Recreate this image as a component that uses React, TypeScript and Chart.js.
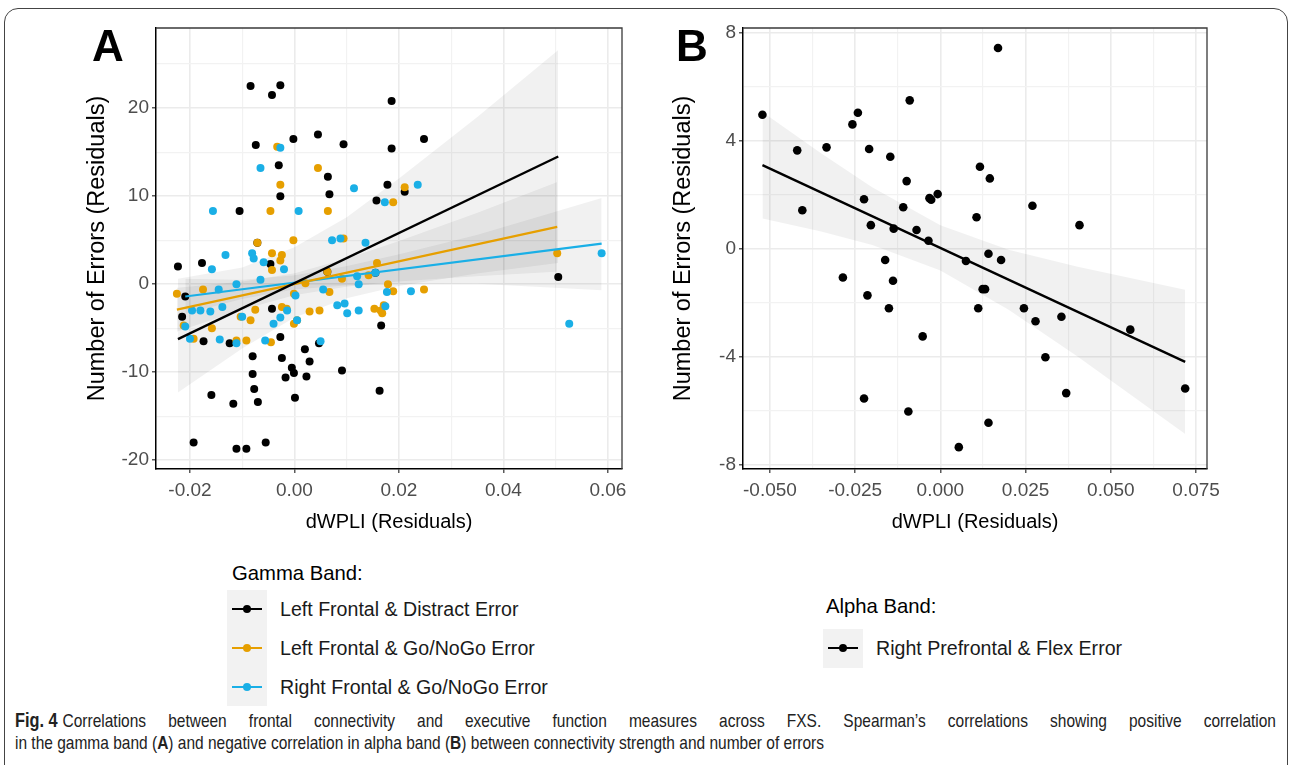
import React, { useEffect, useLayoutEffect, useRef } from "react";
import { Chart, registerables } from "chart.js";

Chart.register(...registerables);

// ---------------- Panel A data (gamma band) ----------------
const A_BLACK_X = [-0.0084,-0.0043,-0.0027,-0.0074,-0.0002,0.0045,0.0094,-0.0030,0.0064,-0.0027,0.0067,-0.0105,0.0157,0.0178,0.0186,0.0186,-0.0071,0.0248,0.0211,-0.0223,-0.0177,-0.0209,-0.0215,-0.0174,-0.0124,-0.0046,-0.0043,-0.0027,-0.0080,-0.0024,0.0020,0.0029,-0.0005,-0.0017,-0.0001,0.0023,-0.0080,-0.0077,-0.0070,-0.0117,-0.0159,0.0001,0.0091,0.0163,0.0166,0.0047,-0.0193,-0.0111,-0.0092,-0.0055,0.0063,0.0505,0.0155];
const A_BLACK_Y = [22.5,21.5,22.6,15.8,16.5,17.0,15.9,13.5,12.2,10.0,10.2,8.3,9.5,11.3,20.8,15.4,4.7,16.5,10.5,2.0,2.4,-1.4,-3.7,-6.5,-6.7,2.3,-2.8,-6.0,-8.2,-8.4,-7.4,-8.8,-9.5,-10.6,-10.1,-10.5,-10.2,-11.9,-13.4,-13.6,-12.6,-12.9,-9.8,-12.1,-4.7,-6.7,-18.0,-18.7,-18.7,-18.0,1.4,0.8,1.3];

const A_ORANGE_X = [-0.0033,0.0045,-0.0027,-0.0046,0.0064,-0.0071,-0.0002,0.0094,0.0211,0.0189,-0.0043,-0.0024,-0.0027,-0.0043,-0.0225,-0.0175,-0.0212,-0.0193,-0.0158,-0.0111,-0.0092,-0.0103,-0.0084,-0.0075,-0.0045,-0.0024,-0.0015,-0.0001,0.0005,-0.0001,0.0021,0.0029,0.0048,0.0067,0.0091,0.0063,0.0142,0.0158,0.0153,0.0165,0.0171,0.0503,0.0179,0.0189,0.0248,0.0168];
const A_ORANGE_Y = [15.6,13.2,11.3,8.3,8.3,4.7,5.0,5.2,11.0,9.3,3.5,3.3,2.7,1.6,-1.1,-0.6,-4.7,-6.2,-5.0,-6.4,-6.4,-3.7,-4.1,-2.9,-6.6,-2.6,-2.8,-4.5,-4.1,-1.1,0.1,-3.1,-3.0,-0.9,0.6,1.4,1.0,2.4,-2.8,-3.0,-2.4,3.5,0.0,-0.8,-0.6,-3.3];

const A_BLUE_X = [-0.0027,-0.0065,0.0114,-0.0156,0.0008,0.0072,0.0088,0.0136,0.0173,0.0236,-0.0132,-0.0158,-0.0081,-0.0078,-0.0059,-0.0020,-0.0065,-0.0111,-0.0145,-0.0180,-0.0196,-0.0161,-0.0138,-0.0209,-0.0200,-0.0143,-0.0111,-0.0100,-0.0040,-0.0027,-0.0014,-0.0056,0.0005,0.0002,0.0055,0.0050,0.0082,0.0096,0.0101,0.0123,0.0123,0.0155,0.0177,0.0174,0.0588,0.0526,0.0223,0.0120];
const A_BLUE_Y = [15.5,13.2,10.9,8.3,8.3,5.0,5.2,4.7,9.3,11.3,3.3,1.7,3.5,2.9,2.5,1.7,0.5,0.0,-0.6,-3.0,-3.0,-3.1,-2.6,-4.8,-6.2,-6.3,-6.7,-3.7,-4.5,-3.8,-3.0,-6.4,-4.1,-1.3,-0.6,-6.5,-2.4,-2.2,-3.3,-3.0,0.0,1.3,-0.9,-2.5,3.5,-4.5,-0.8,0.9];

// fitted lines (read endpoints) and confidence ribbons (read at several x)
const A_BLACK_FIT_X = [-0.0223, 0.0505];
const A_BLACK_FIT_Y = [-6.25, 14.5];
const A_ORANGE_FIT_X = [-0.0225, 0.0503];
const A_ORANGE_FIT_Y = [-2.9, 6.5];
const A_BLUE_FIT_X = [-0.0209, 0.0588];
const A_BLUE_FIT_Y = [-1.4, 4.6];

const A_BLACK_BAND_X = [-0.0223, -0.01, 0, 0.01, 0.02, 0.035, 0.0505];
const A_BLACK_BAND_HI = [0.6, 1.9, 4.2, 7.6, 12.0, 19.0, 26.6];
const A_BLACK_BAND_LO = [-12.3, -7.3, -3.8, -1.6, -0.2, 1.2, 2.4];
const A_ORANGE_BAND_X = [-0.0225, -0.01, 0, 0.01, 0.02, 0.035, 0.0503];
const A_ORANGE_BAND_HI = [-0.4, 0.3, 1.25, 2.9, 4.9, 8.1, 11.6];
const A_ORANGE_BAND_LO = [-5.4, -2.9, -1.25, -0.3, 0.3, 0.9, 1.4];
const A_BLUE_BAND_X = [-0.0209, -0.01, 0, 0.01, 0.02, 0.035, 0.0588];
const A_BLUE_BAND_HI = [0.6, 0.5, 1.0, 2.05, 3.4, 5.6, 9.8];
const A_BLUE_BAND_LO = [-3.4, -1.7, -0.6, -0.15, 0.0, 0.05, -0.7];

const A_X_MAJOR = [-0.02, 0, 0.02, 0.04, 0.06];
const A_X_LABELS = ["-0.02", "0.00", "0.02", "0.04", "0.06"];
const A_X_MINOR = [-0.01, 0.01, 0.03, 0.05];
const A_Y_MAJOR = [-20, -10, 0, 10, 20];
const A_Y_LABELS = ["-20", "-10", "0", "10", "20"];
const A_Y_MINOR = [-15, -5, 5, 15, 25];
const A_X_LIMITS = [-0.0265, 0.0627];
const A_Y_LIMITS = [-21, 29.1];

// ---------------- Panel B data (alpha band) ----------------
const B_X = [-0.0522,-0.0420,-0.0405,-0.0334,-0.0258,-0.0242,-0.0209,-0.0224,-0.0204,-0.0147,-0.0137,-0.0099,-0.0090,-0.0109,-0.0070,-0.0032,-0.0027,-0.0008,-0.0035,0.0169,0.0116,0.0145,0.0270,0.0106,0.0408,0.0141,-0.0286,-0.0162,-0.0139,-0.0214,-0.0151,-0.0052,-0.0224,-0.0094,0.0054,0.0075,0.0178,0.0124,0.0131,0.0111,0.0245,0.0279,0.0355,0.0557,0.0308,0.0369,0.0718,0.0141];
const B_Y = [4.97,3.65,1.43,3.76,4.61,5.04,3.70,1.84,0.88,3.41,0.75,2.51,5.50,1.54,0.70,1.88,1.82,2.03,0.30,7.44,3.04,2.61,1.60,1.17,0.88,-0.18,-1.06,-0.41,-1.18,-1.72,-2.20,-3.24,-5.54,-6.02,-7.34,-0.45,-0.41,-1.49,-1.49,-2.20,-2.20,-2.68,-2.51,-2.99,-4.01,-5.34,-5.17,-6.44];
const B_FIT_X = [-0.0522, 0.0718];
const B_FIT_Y = [3.10, -4.18];
const B_BAND_X = [-0.0522, -0.035, -0.02, 0, 0.02, 0.04, 0.0718];
const B_BAND_HI = [5.07, 3.54, 2.28, 0.88, -0.03, -0.65, -1.51];
const B_BAND_LO = [1.13, 0.64, 0.14, -0.80, -2.25, -3.97, -6.85];

const B_X_MAJOR = [-0.05, -0.025, 0, 0.025, 0.05, 0.075];
const B_X_LABELS = ["-0.050", "-0.025", "0.000", "0.025", "0.050", "0.075"];
const B_X_MINOR = [-0.0375, -0.0125, 0.0125, 0.0375, 0.0625];
const B_Y_MAJOR = [-8, -4, 0, 4, 8];
const B_Y_LABELS = ["-8", "-4", "0", "4", "8"];
const B_Y_MINOR = [-6, -2, 2, 6];
const B_X_LIMITS = [-0.0579, 0.0782];
const B_Y_LIMITS = [-8.15, 8.18];

// ---------------- labels ----------------
const X_TITLE = "dWPLI (Residuals)";
const Y_TITLE = "Number of Errors (Residuals)";
const GAMMA_TITLE = "Gamma Band:";
const GAMMA_ITEMS = ["Left Frontal & Distract Error", "Left Frontal & Go/NoGo Error", "Right Frontal & Go/NoGo Error"];
const ALPHA_TITLE = "Alpha Band:";
const ALPHA_ITEMS = ["Right Prefrontal & Flex Error"];

const BLACK = "#000000";
const ORANGE = "#E69F00";
const BLUE = "#1AAFE6";
const FONT = "'Liberation Sans', Arial, sans-serif";

const zip = (xs: number[], ys: number[]) => xs.map((x, i) => ({ x, y: ys[i] }));

function makeAxis(
  min: number, max: number, majors: number[], labels: string[], minors: number[],
  title: string, titlePad: any, fitSize: number, horizontal: boolean
) {
  const all = [...majors, ...minors].sort((a, b) => a - b);
  const isMajor = (v: number) => majors.some((m) => Math.abs(m - v) < 1e-9);
  return {
    type: "linear",
    position: horizontal ? "bottom" : "left",
    min, max,
    afterBuildTicks: (s: any) => { s.ticks = all.map((v) => ({ value: v })); },
    afterFit: (s: any) => { if (horizontal) s.height = fitSize; else s.width = fitSize; },
    ticks: {
      autoSkip: false, maxRotation: 0, minRotation: 0, padding: horizontal ? 6 : 3,
      color: "#4d4d4d",
      font: { family: FONT, size: 19 },
      callback: (v: number) => {
        const i = majors.findIndex((m) => Math.abs(m - v) < 1e-9);
        return i >= 0 ? labels[i] : "";
      },
    },
    grid: {
      color: (c: any) => (c.tick && isMajor(c.tick.value) ? "#ebebeb" : "#f2f2f2"),
      lineWidth: (c: any) => (c.tick && isMajor(c.tick.value) ? 1.6 : 1.2),
      tickColor: (c: any) => (c.tick && isMajor(c.tick.value) ? "#333333" : "rgba(0,0,0,0)"),
      tickLength: 4,
      tickWidth: 1.2,
    },
    border: { display: true, color: "#000", width: 1.5 },
    title: { display: true, text: title, color: "#000", font: { family: FONT, size: horizontal ? 20 : 23.5 }, padding: titlePad },
  };
}

const borderPlugin = {
  id: "panelBorder",
  afterDatasetsDraw(chart: any) {
    const { ctx, chartArea } = chart;
    ctx.save();
    ctx.strokeStyle = "#3a3a3a";
    ctx.lineWidth = 1.3;
    ctx.beginPath();
    ctx.moveTo(chartArea.left, chartArea.top);
    ctx.lineTo(chartArea.right, chartArea.top);
    ctx.lineTo(chartArea.right, chartArea.bottom);
    ctx.stroke();
    ctx.restore();
  },
};

const bandPair = (xs: number[], hi: number[], lo: number[]) => [
  { type: "line", data: zip(xs, hi), borderWidth: 0, pointRadius: 0, fill: "+1", backgroundColor: "rgba(0,0,0,0.055)", order: 5 },
  { type: "line", data: zip(xs, lo), borderWidth: 0, pointRadius: 0, fill: false, order: 5 },
];
const fitLine = (xs: number[], ys: number[], color: string, w: number) => ({
  type: "line", data: zip(xs, ys), borderColor: color, borderWidth: w, pointRadius: 0, fill: false, order: 0,
});
const points = (xs: number[], ys: number[], color: string, order: number, r: number) => ({
  type: "scatter", data: zip(xs, ys), backgroundColor: color, borderColor: color, borderWidth: 0, pointRadius: r, order,
});

function baseOptions(x: any, y: any, padding: any) {
  return {
    responsive: false,
    animation: false,
    devicePixelRatio: 1,
    layout: { padding },
    plugins: { legend: { display: false }, tooltip: { enabled: false } },
    scales: { x, y },
  };
}

function configA() {
  return {
    type: "scatter",
    data: {
      datasets: [
        fitLine(A_BLACK_FIT_X, A_BLACK_FIT_Y, BLACK, 2.4),
        fitLine(A_ORANGE_FIT_X, A_ORANGE_FIT_Y, ORANGE, 2.2),
        fitLine(A_BLUE_FIT_X, A_BLUE_FIT_Y, BLUE, 2.2),
        points(A_BLUE_X, A_BLUE_Y, BLUE, 1, 4),
        points(A_ORANGE_X, A_ORANGE_Y, ORANGE, 2, 4),
        points(A_BLACK_X, A_BLACK_Y, BLACK, 3, 4),
        ...bandPair(A_BLACK_BAND_X, A_BLACK_BAND_HI, A_BLACK_BAND_LO),
        ...bandPair(A_ORANGE_BAND_X, A_ORANGE_BAND_HI, A_ORANGE_BAND_LO),
        ...bandPair(A_BLUE_BAND_X, A_BLUE_BAND_HI, A_BLUE_BAND_LO),
      ],
    },
    options: baseOptions(
      makeAxis(A_X_LIMITS[0], A_X_LIMITS[1], A_X_MAJOR, A_X_LABELS, A_X_MINOR, X_TITLE, { top: 0, bottom: 11 }, 76, true),
      makeAxis(A_Y_LIMITS[0], A_Y_LIMITS[1], A_Y_MAJOR, A_Y_LABELS, A_Y_MINOR, Y_TITLE, { top: 23, bottom: 0 }, 96, false),
      { top: 28, right: 18, left: 0, bottom: 0 }
    ),
    plugins: [borderPlugin],
  };
}

function configB() {
  return {
    type: "scatter",
    data: {
      datasets: [
        fitLine(B_FIT_X, B_FIT_Y, BLACK, 2.4),
        points(B_X, B_Y, BLACK, 1, 4.3),
        ...bandPair(B_BAND_X, B_BAND_HI, B_BAND_LO),
      ],
    },
    options: baseOptions(
      makeAxis(B_X_LIMITS[0], B_X_LIMITS[1], B_X_MAJOR, B_X_LABELS, B_X_MINOR, X_TITLE, { top: 0, bottom: 11 }, 76, true),
      makeAxis(B_Y_LIMITS[0], B_Y_LIMITS[1], B_Y_MAJOR, B_Y_LABELS, B_Y_MINOR, Y_TITLE, { top: 9, bottom: 0 }, 83, false),
      { top: 28, right: 23, left: 0, bottom: 0 }
    ),
    plugins: [borderPlugin],
  };
}

function ChartCanvas({ make, left, top, width, height }: any) {
  const ref = useRef<HTMLCanvasElement | null>(null);
  useEffect(() => {
    const chart = new Chart(ref.current as HTMLCanvasElement, make());
    return () => chart.destroy();
  }, []);
  return (
    <canvas ref={ref} width={width} height={height}
      style={{ position: "absolute", left, top, width, height }} />
  );
}

// Caption: last line sets the horizontal scale; first line is justified to the full width.
const CAPTION_LINE1_W = 1261;
const CAPTION_LINE2_W = 809;

function Caption() {
  const r1 = useRef<HTMLDivElement | null>(null);
  const r2 = useRef<HTMLDivElement | null>(null);
  useLayoutEffect(() => {
    const fit = () => {
      const e1 = r1.current, e2 = r2.current;
      if (!e1 || !e2) return;
      e2.style.transform = "none";
      const w2 = e2.getBoundingClientRect().width;
      if (!(w2 > 0)) return;
      const s = CAPTION_LINE2_W / w2;
      e2.style.transform = `scaleX(${s})`;
      e1.style.width = `${CAPTION_LINE1_W / s}px`;
      e1.style.transform = `scaleX(${s})`;
    };
    fit();
    const fonts = (document as any).fonts;
    if (fonts && fonts.ready) fonts.ready.then(fit);
  });
  const common: any = { position: "absolute", left: 15, fontFamily: FONT, fontSize: 19, lineHeight: "22px", color: "#222", transformOrigin: "0 0" };
  return (
    <>
      <div ref={r1} style={{ ...common, top: 709, height: 22, overflow: "visible", textAlign: "justify", textAlignLast: "justify" as any }}>
        <span style={{ display: "inline-block", fontWeight: "bold", fontSize: 20, marginRight: 6 }}>Fig.&nbsp;4</span>
        Correlations between frontal connectivity and executive function measures across FXS. Spearman’s correlations showing positive correlation
      </div>
      <div ref={r2} style={{ ...common, top: 732, whiteSpace: "nowrap" }}>
        in the gamma band (<b>A</b>) and negative correlation in alpha band (<b>B</b>) between connectivity strength and number of errors
      </div>
    </>
  );
}

function LegendKey({ color, left, top }: any) {
  return (
    <>
      <div style={{ position: "absolute", left, top: top - 1, width: 30, height: 2.2, background: color }} />
      <div style={{ position: "absolute", left: left + 11, top: top - 4, width: 8, height: 8, borderRadius: 4, background: color }} />
    </>
  );
}

export default function App() {
  const gammaColors = [BLACK, ORANGE, BLUE];
  const gammaRows = [609, 648, 687];
  const legendText = { fontFamily: FONT, fontSize: 19.6, color: "#1a1a1a", lineHeight: "22px", whiteSpace: "nowrap" as any };
  return (
    <div style={{ position: "absolute", left: 0, top: 0, width: 1293, height: 765, background: "#fff", overflow: "hidden" }}>
      <div style={{ position: "absolute", left: 4, top: 8, width: 1284, height: 820, border: "1px solid #444", borderRadius: 14, boxSizing: "border-box" }} />

      <ChartCanvas make={configA} left={60} top={0} width={580} height={545} />
      <ChartCanvas make={configB} left={660} top={0} width={570} height={545} />

      <div style={{ position: "absolute", left: 92, top: 24, fontFamily: FONT, fontWeight: "bold", fontSize: 44, lineHeight: "44px", color: "#000" }}>A</div>
      <div style={{ position: "absolute", left: 676, top: 24, fontFamily: FONT, fontWeight: "bold", fontSize: 44, lineHeight: "44px", color: "#000" }}>B</div>

      {/* Gamma legend */}
      <div style={{ position: "absolute", left: 232, top: 561, fontFamily: FONT, fontSize: 20.3, lineHeight: "24px", color: "#000" }}>{GAMMA_TITLE}</div>
      <div style={{ position: "absolute", left: 227, top: 590, width: 40, height: 116, background: "#f2f2f2" }} />
      {GAMMA_ITEMS.map((t, i) => (
        <React.Fragment key={t}>
          <LegendKey color={gammaColors[i]} left={232} top={gammaRows[i]} />
          <div style={{ position: "absolute", left: 280, top: gammaRows[i] - 11, ...legendText }}>{t}</div>
        </React.Fragment>
      ))}

      {/* Alpha legend */}
      <div style={{ position: "absolute", left: 826, top: 594, fontFamily: FONT, fontSize: 20.3, lineHeight: "24px", color: "#000" }}>{ALPHA_TITLE}</div>
      <div style={{ position: "absolute", left: 823, top: 629, width: 40, height: 39, background: "#f2f2f2" }} />
      <LegendKey color={BLACK} left={828} top={648} />
      <div style={{ position: "absolute", left: 876, top: 637, ...legendText }}>{ALPHA_ITEMS[0]}</div>

      <Caption />
    </div>
  );
}
